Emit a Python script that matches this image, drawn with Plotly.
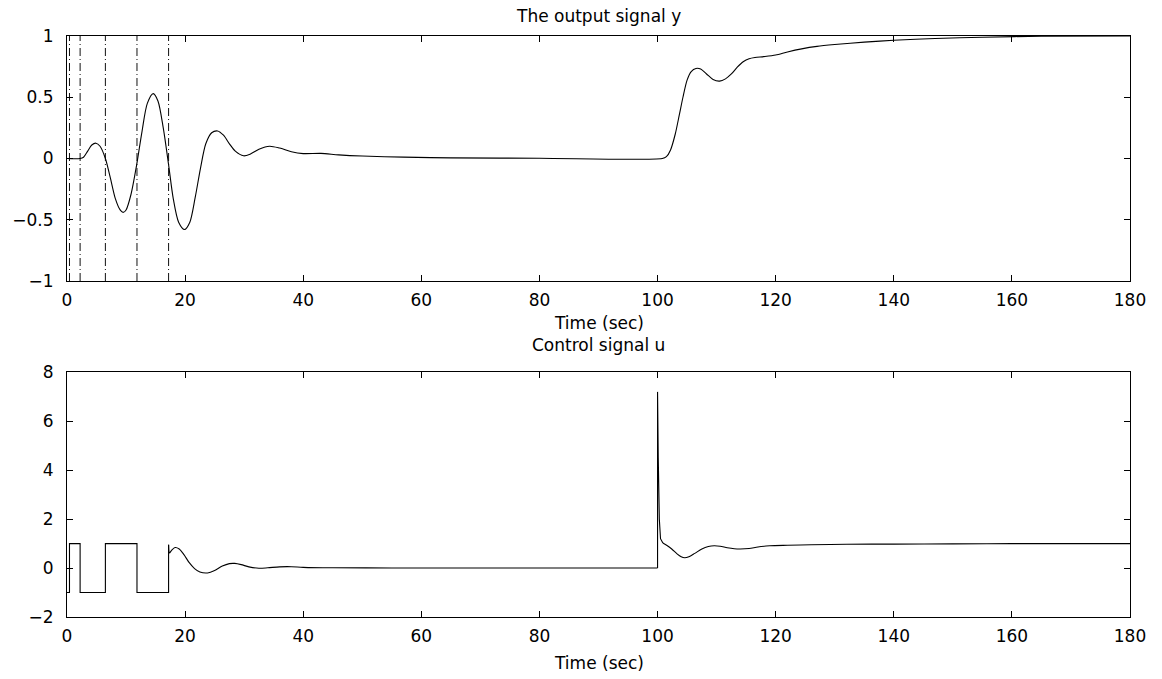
import plotly.graph_objects as go

# ---------------- data ----------------
switch_times = [0.42, 2.22, 6.5, 11.85, 17.2]

y_t = [0, 2.2, 2.8, 3.5, 4.2, 4.9, 5.6, 6.5, 7.3, 8.2, 9.0, 9.5, 10.0, 10.8, 11.8,
       12.7, 13.6, 14.6, 15.4, 16.3, 17.2, 18.0, 18.9, 19.9, 20.8, 21.7, 22.6, 23.5,
       24.5, 25.5, 26.5, 27.5, 28.5, 29.9, 31.0, 32.5, 34.3, 36.0, 38.0, 40.0, 43.0,
       46.0, 50.0, 57.0, 65.0, 80.0, 100.8, 101.5, 102.2, 103.0, 103.7, 104.3, 105.0,
       105.7, 106.5, 107.3, 108.3, 109.4, 110.5, 111.5, 112.5, 113.5, 114.5, 115.5,
       116.5, 118.0, 120.0, 122.0, 124.4, 127.0, 130.0, 135.0, 140.0, 147.0, 155.0,
       165.0, 180.0]
y_val = [0, 0, 0.01, 0.06, 0.11, 0.125, 0.10, 0.0, -0.15, -0.33, -0.42, -0.44, -0.42,
         -0.30, -0.05, 0.22, 0.45, 0.53, 0.47, 0.25, -0.05, -0.33, -0.52, -0.58, -0.52,
         -0.32, -0.08, 0.12, 0.21, 0.225, 0.19, 0.12, 0.06, 0.022, 0.035, 0.075, 0.10,
         0.085, 0.055, 0.04, 0.042, 0.03, 0.02, 0.011, 0.005, 0.002, 0.0, 0.015, 0.07,
         0.20, 0.36, 0.50, 0.64, 0.71, 0.735, 0.73, 0.69, 0.645, 0.632, 0.65, 0.69,
         0.745, 0.79, 0.815, 0.825, 0.832, 0.845, 0.87, 0.895, 0.915, 0.93, 0.95,
         0.965, 0.98, 0.99, 0.998, 1.0]

# bang-bang part of the control signal
u_step_t = [0, 0.42, 2.22, 6.5, 11.85, 17.2, 17.2]
u_step_v = [-1, 1, -1, 1, -1, -1, 0.95]

# smooth part after the switching
u_s1_t = [17.2, 17.35, 17.7, 18.3, 19.0, 19.8, 20.7, 21.6, 22.5, 23.8, 25.0, 26.3,
          27.5, 28.4, 29.5, 30.8, 32.5, 34.0, 36.0, 38.0, 40.0, 45.0, 55.0, 70.0, 100.0]
u_s1_v = [0.95, 0.62, 0.72, 0.84, 0.78, 0.55, 0.22, -0.02, -0.16, -0.20, -0.10, 0.08,
          0.18, 0.19, 0.14, 0.05, -0.01, 0.01, 0.05, 0.055, 0.03, 0.01, 0.005, 0.0, 0.0]

# spike at the reference step
u_spk_t = [100.0, 100.0, 100.12, 100.3, 100.5, 100.9]
u_spk_v = [0.0, 7.2, 4.5, 2.0, 1.2, 1.02]

u_s2_t = [100.9, 101.6, 102.4, 103.3, 104.0, 104.6, 105.3, 106.3, 107.5, 108.6, 109.6,
          110.6, 111.8, 113.0, 114.0, 115.5, 117.0, 119.0, 122.0, 126.0, 132.0, 140.0,
          150.0, 160.0, 180.0]
u_s2_v = [1.02, 0.92, 0.78, 0.58, 0.46, 0.42, 0.46, 0.60, 0.78, 0.88, 0.91, 0.89, 0.83,
          0.79, 0.78, 0.80, 0.86, 0.91, 0.93, 0.95, 0.97, 0.98, 0.99, 1.0, 1.0]

x_ticks = [0, 20, 40, 60, 80, 100, 120, 140, 160, 180]
y1_ticks = [-1, -0.5, 0, 0.5, 1]
y1_text = ["\u22121", "\u22120.5", "0", "0.5", "1"]
y2_ticks = [-2, 0, 2, 4, 6, 8]
y2_text = ["\u22122", "0", "2", "4", "6", "8"]

# ---------------- figure ----------------
FONT = "DejaVu Sans"
FS = 17
black = "#000000"
fig = go.Figure()

# dash-dot switching lines (top plot)
for ts in switch_times:
    fig.add_trace(go.Scatter(x=[ts, ts], y=[-1, 1], mode="lines",
                             line=dict(color="#111111", width=1, dash="8px,3px,1px,3px"),
                             xaxis="x", yaxis="y", showlegend=False, hoverinfo="skip"))

fig.add_trace(go.Scatter(x=y_t, y=y_val, mode="lines",
                         line=dict(color=black, width=1.1, shape="spline", smoothing=0.8),
                         xaxis="x", yaxis="y", showlegend=False))

fig.add_trace(go.Scatter(x=u_step_t, y=u_step_v, mode="lines",
                         line=dict(color=black, width=1.1, shape="hv"),
                         xaxis="x2", yaxis="y2", showlegend=False))
fig.add_trace(go.Scatter(x=u_s1_t, y=u_s1_v, mode="lines",
                         line=dict(color=black, width=1.1, shape="spline", smoothing=0.8),
                         xaxis="x2", yaxis="y2", showlegend=False))
fig.add_trace(go.Scatter(x=u_spk_t, y=u_spk_v, mode="lines",
                         line=dict(color=black, width=1.1),
                         xaxis="x2", yaxis="y2", showlegend=False))
fig.add_trace(go.Scatter(x=u_s2_t, y=u_s2_v, mode="lines",
                         line=dict(color=black, width=1.1, shape="spline", smoothing=0.8),
                         xaxis="x2", yaxis="y2", showlegend=False))

W, H = 1162, 679
ML, MR, MT, MB = 62, 32, 36, 62
plot_h = H - MT - MB


def py(pix):
    """pixel row -> paper y"""
    return (H - MB - pix) / plot_h


axis_common = dict(showgrid=False, zeroline=False, showline=True, linecolor=black,
                   linewidth=1, mirror="allticks", ticks="inside", ticklen=6,
                   tickcolor=black, tickwidth=1,
                   tickfont=dict(family=FONT, size=FS, color=black))

fig.update_layout(
    width=W, height=H,
    margin=dict(l=ML, r=MR, t=MT, b=MB),
    paper_bgcolor="white", plot_bgcolor="white",
    xaxis=dict(domain=[0, 1], range=[0, 180], tickvals=x_ticks, anchor="y",
               ticklabelstandoff=4, **axis_common),
    yaxis=dict(domain=[py(281), 1], range=[-1, 1], tickvals=y1_ticks,
               ticktext=y1_text, anchor="x", ticklabelstandoff=9, **axis_common),
    xaxis2=dict(domain=[0, 1], range=[0, 180], tickvals=x_ticks, anchor="y2",
                ticklabelstandoff=4, **axis_common),
    yaxis2=dict(domain=[0, py(372.3)], range=[-2, 8], tickvals=y2_ticks,
                ticktext=y2_text, anchor="x2", ticklabelstandoff=9, **axis_common),
    showlegend=False,
)

ann_font = dict(family=FONT, size=FS, color=black)
labels = [("The output signal y", 16), ("Time (sec)", 323),
          ("Control signal u", 345), ("Time (sec)", 663)]
for txt, ypix in labels:
    fig.add_annotation(text=txt, xref="paper", yref="paper", x=0.5, y=py(ypix),
                       xanchor="center", yanchor="middle", showarrow=False,
                       font=ann_font, borderpad=0)

fig.write_html("out.html", config={"displayModeBar": False},
               post_script="document.body.style.margin='0px';document.body.style.overflow='hidden';")
